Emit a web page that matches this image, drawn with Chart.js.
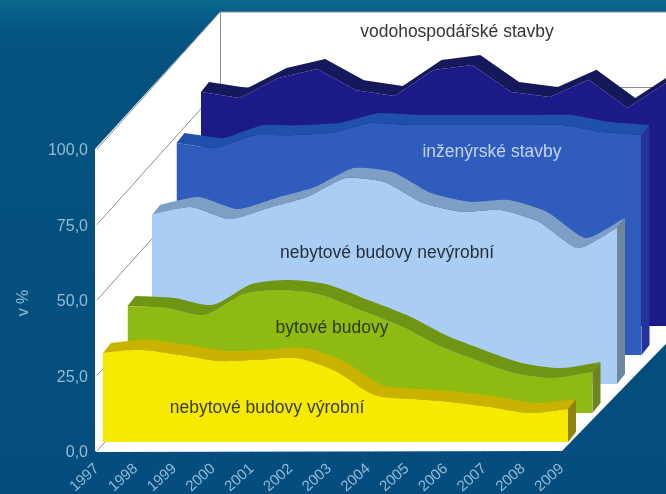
<!DOCTYPE html>
<html>
<head>
<meta charset="utf-8">
<script src="https://cdn.jsdelivr.net/npm/chart.js@4"></script>
<style>
  html, body { margin: 0; padding: 0; }
  body { width: 666px; height: 494px; overflow: hidden; background: linear-gradient(180deg, #0b6a8a 0, #07608a 2%, #05527f 10%, #044d7e 100%); }
  canvas { display: block; filter: blur(0.6px); }
</style>
</head>
<body>
<canvas id="myChart" width="666" height="494"></canvas>
<script>
// values, front slab first
var years = [1997, 1998, 1999, 2000, 2001, 2002, 2003, 2004, 2005, 2006, 2007, 2008, 2009];
var yTicks = [0, 25, 50, 75, 100];
var vyrobni = [29.5, 30.5, 28.8, 26.8, 27.2, 27.8, 23.5, 15.6, 14.2, 13.2, 11.6, 9.6, 10.9];
var bytove = [35.4, 34.8, 32.5, 39.4, 40.7, 39.1, 34.1, 29.1, 22.5, 17.5, 13.2, 11.6, 13.6];
var nevyrobni = [56, 58.6, 54.6, 58.3, 61.9, 68.2, 66.9, 59.9, 57, 57.6, 53.6, 45, 51.7];
var inzenyrske = [70.2, 68.5, 72.8, 72.8, 73.5, 76.8, 76.2, 76.2, 76.2, 76.2, 76.2, 73.8, 72.8];
var vodohosp = [77.5, 75.5, 82.1, 85.1, 78.1, 76.2, 84.8, 86.4, 77.5, 75.8, 81.5, 72.2, 80.5];

var seriesNames = ["nebytové budovy výrobní", "bytové budovy", "nebytové budovy nevýrobní", "inženýrské stavby", "vodohospodářské stavby"];
var seriesValues = [vyrobni, bytove, nevyrobni, inzenyrske, vodohosp];

// look of each slab
var looks = [
  { front: "#f6ea00", top: "#c9b300", side: "#8f8412", text: "#3a3a20", tension: 0.25, tx: 267, ty: 408 },
  { front: "#8fba12", top: "#6f9512", side: "#6d8420", text: "#2c3a10", tension: 0.25, tx: 332, ty: 328 },
  { front: "#a9cdf3", top: "#7d9fc3", side: "#6d8799", text: "#26303c", tension: 0.2, tx: 387, ty: 253 },
  { front: "#2f5cbd", top: "#1f50ab", side: "#25339a", text: "#c3d4ec", tension: 0.1, tx: 492, ty: 152 },
  { front: "#1b1a88", top: "#15195c", side: "#1f1f8e", text: "#33333a", tension: 0, tx: 457, ty: 32 }
];

const labelColor = "#93bcd6";
const pxPerYear = 465 / 12;
const pxPerUnit = 3.02;
const yMax = 439 / pxPerUnit;
const xEnd = years[years.length - 1] + 104 / pxPerYear; // plot area runs on to the page edge
const wallDx = 123, wallDy = 137;
const slabDepthX = 8, slabDepthY = 10;

function slabDx(i) { return 6 + 24.5 * i; }
function slabDy(i) { return 9 + 29 * i; }

// each slab sits on its own hidden pair of axes, shifted back along the floor
var scales = {
  x: {
    type: "linear",
    min: years[0],
    max: xEnd,
    afterBuildTicks: function (axis) { axis.ticks = years.map(function (v) { return { value: v }; }); },
    grid: { drawOnChartArea: false, color: "#0a3f66", tickLength: 4 },
    border: { display: false },
    ticks: {
      color: labelColor,
      font: { family: "Liberation Sans", size: 15 },
      minRotation: 42,
      maxRotation: 42,
      autoSkip: false,
      padding: 5,
      callback: function (v) { return String(v); }
    },
    afterFit: function (axis) {
      axis.height = 43;
      axis.paddingLeft = 0;
      axis.paddingRight = 0;
    }
  },
  y: {
    type: "linear",
    min: 0,
    max: yMax,
    afterBuildTicks: function (axis) { axis.ticks = yTicks.map(function (v) { return { value: v }; }); },
    grid: { display: false },
    border: { display: false },
    ticks: {
      color: labelColor,
      font: { family: "Liberation Sans", size: 16 },
      padding: 1,
      labelOffset: 2,
      callback: function (v) { return v.toFixed(1).replace(".", ","); }
    },
    afterFit: function (axis) {
      axis.width = 97;
      axis.paddingTop = 0;
      axis.paddingBottom = 0;
    }
  }
};
seriesNames.forEach(function (name, i) {
  var shiftYear = slabDx(i) / pxPerYear;
  var shiftVal = slabDy(i) / pxPerUnit;
  scales["x" + i] = { type: "linear", display: false, min: years[0] - shiftYear, max: xEnd - shiftYear };
  scales["y" + i] = { type: "linear", display: false, min: -shiftVal, max: yMax - shiftVal };
});

var datasets = seriesNames.map(function (name, i) {
  return {
    label: name,
    data: seriesValues[i].map(function (v, k) { return { x: years[k], y: v }; }),
    xAxisID: "x" + i,
    yAxisID: "y" + i,
    backgroundColor: looks[i].front,
    fill: "origin",
    clip: false,
    borderWidth: 0,
    pointRadius: 0,
    tension: looks[i].tension,
    capBezierPoints: false
  };
});

// the white box: back wall, left wall, floor and their grid lines
var wallsPlugin = {
  id: "walls",
  beforeDatasetsDraw: function (chart) {
    var c = chart.ctx, sx = chart.scales.x, sy = chart.scales.y;
    var x0 = sx.getPixelForValue(years[0]), x1 = sx.getPixelForValue(years[years.length - 1]);
    var y0 = sy.getPixelForValue(0), y100 = sy.getPixelForValue(100);
    c.save();
    c.fillStyle = "#ffffff";
    c.beginPath();
    c.moveTo(x0 - 2, y100);
    c.lineTo(x0 + wallDx, y100 - wallDy);
    c.lineTo(x1 + wallDx + 10, y100 - wallDy);
    c.lineTo(x1 + wallDx + 10, y0 - wallDy);
    c.lineTo(x1, y0);
    c.lineTo(x0, y0 + 1);
    c.lineTo(x0 - 2, y0);
    c.closePath();
    c.fill();
    c.lineWidth = 1;
    c.strokeStyle = "#8d8d8d";
    yTicks.forEach(function (v) {
      var y = sy.getPixelForValue(v);
      c.beginPath();
      c.moveTo(x0, y);
      c.lineTo(x0 + wallDx, y - wallDy);
      c.lineTo(x1 + wallDx + 10, y - wallDy);
      c.stroke();
    });
    c.beginPath();
    c.moveTo(x0 + wallDx + 0.5, y100 - wallDy);
    c.lineTo(x0 + wallDx + 0.5, y0 - wallDy);
    c.stroke();
    c.restore();
  }
};

// top face and right end of a slab, taken from the points the line element got
var slabPlugin = {
  id: "slab",
  afterDatasetDraw: function (chart, args) {
    var i = args.index, c = chart.ctx, pts = args.meta.data, look = looks[i];
    var dx = slabDepthX, dy = -slabDepthY;
    var n = pts.length, k;
    c.save();
    c.fillStyle = look.top;
    c.beginPath();
    c.moveTo(pts[0].x, pts[0].y);
    for (k = 1; k < n; k++) {
      if (look.tension > 0) c.bezierCurveTo(pts[k - 1].cp2x, pts[k - 1].cp2y, pts[k].cp1x, pts[k].cp1y, pts[k].x, pts[k].y);
      else c.lineTo(pts[k].x, pts[k].y);
    }
    c.lineTo(pts[n - 1].x + dx, pts[n - 1].y + dy);
    for (k = n - 1; k > 0; k--) {
      if (look.tension > 0) c.bezierCurveTo(pts[k].cp1x + dx, pts[k].cp1y + dy, pts[k - 1].cp2x + dx, pts[k - 1].cp2y + dy, pts[k - 1].x + dx, pts[k - 1].y + dy);
      else c.lineTo(pts[k - 1].x + dx, pts[k - 1].y + dy);
    }
    c.closePath();
    c.fill();

    var last = pts[n - 1];
    var base = chart.scales["y" + i].getPixelForValue(0);
    c.fillStyle = look.side;
    c.beginPath();
    c.moveTo(last.x, last.y);
    c.lineTo(last.x + dx, last.y + dy);
    c.lineTo(last.x + dx, base + dy);
    c.lineTo(last.x, base);
    c.closePath();
    c.fill();
    c.restore();
  },
  afterDatasetsDraw: function (chart) {
    var c = chart.ctx;
    c.save();
    c.font = "17.5px 'Liberation Sans'";
    c.textAlign = "center";
    c.textBaseline = "middle";
    seriesNames.forEach(function (name, i) {
      c.fillStyle = looks[i].text;
      c.fillText(name, looks[i].tx, looks[i].ty);
    });
    // axis name sits low on the axis here, not at the middle of the plot box
    c.translate(24, 303);
    c.rotate(-Math.PI / 2);
    c.font = "16px 'Liberation Sans'";
    c.fillStyle = labelColor;
    c.fillText("v %", 0, 0);
    c.restore();
  }
};

const ctx = document.getElementById("myChart");
new Chart(ctx, {
  type: "line",
  data: { datasets: datasets },
  options: {
    responsive: false,
    animation: false,
    layout: { padding: { left: 0, top: 12, right: 0, bottom: 0 } },
    plugins: { legend: { display: false }, title: { display: false }, tooltip: { enabled: false } },
    scales: scales
  },
  plugins: [wallsPlugin, slabPlugin]
});
</script>
</body>
</html>
